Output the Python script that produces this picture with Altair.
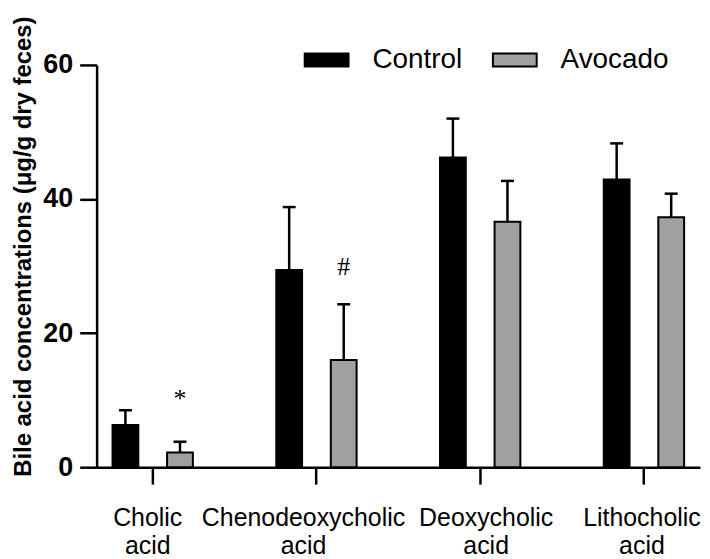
import altair as alt
import pandas as pd

categories = ["Cholic acid", "Chenodeoxycholic acid", "Deoxycholic acid", "Lithocholic acid"]
series = ["Control", "Avocado"]
control_mean = [6.3, 29.4, 46.2, 42.9]
control_sd = [2.2, 9.4, 5.8, 5.4]
avocado_mean = [2.2, 16.0, 36.6, 37.3]
avocado_sd = [1.6, 8.3, 6.1, 3.5]

note_labels = ["*", "#"]
note_category = ["Cholic acid", "Chenodeoxycholic acid"]
note_series = ["Avocado", "Avocado"]
note_value = [10.1, 29.9]

rows = []
for c, m, s in zip(categories, control_mean, control_sd):
    rows.append({"cat": c, "grp": "Control", "mean": m, "upper": m + s})
for c, m, s in zip(categories, avocado_mean, avocado_sd):
    rows.append({"cat": c, "grp": "Avocado", "mean": m, "upper": m + s})
df = pd.DataFrame(rows)
notes = pd.DataFrame({"cat": note_category, "grp": note_series, "label": note_labels, "val": note_value})

FONT = "Liberation Sans"

# small per-label horizontal nudges as in the original figure
label_nudge = {
    "condition": [
        {"test": "datum.value == 'Cholic acid'", "value": -5},
        {"test": "datum.value == 'Chenodeoxycholic acid'", "value": -13},
        {"test": "datum.value == 'Deoxycholic acid'", "value": 6},
    ],
    "value": -2,
}

x_enc = alt.X("cat:N", sort=categories, title=None,
              scale=alt.Scale(paddingInner=0.4, paddingOuter=0.0425),
              axis=alt.Axis(labelAngle=0, labelExpr="split(datum.label, ' ')",
                            labelFont=FONT, labelFontSize=25, labelLineHeight=28,
                            labelColor="black", labelPadding=22, labelLimit=400,
                            labelOffset=label_nudge,
                            tickSize=17, tickWidth=2.5, tickColor="black",
                            domainWidth=2.5, domainColor="black", grid=False))
xo_enc = alt.XOffset("grp:N", sort=series,
                     scale=alt.Scale(paddingInner=0.527, paddingOuter=0.164))
y_scale = alt.Scale(domain=[0, 60], nice=False)

bars = alt.Chart(df).mark_bar(stroke="black", strokeWidth=2).encode(
    x=x_enc,
    xOffset=xo_enc,
    y=alt.Y("mean:Q", scale=y_scale,
            title="Bile acid concentrations (μg/g dry feces)",
            axis=alt.Axis(values=[0, 20, 40, 60], grid=False,
                          labelFont=FONT, labelFontSize=27, labelFontWeight="bold",
                          labelColor="black", labelPadding=7,
                          tickSize=17, tickWidth=2.5, tickColor="black",
                          domainWidth=2.5, domainColor="black",
                          titleFont=FONT, titleFontSize=24, titleFontWeight="bold",
                          titleColor="black", titlePadding=7, titleY=182)),
    fill=alt.Fill("grp:N", sort=series,
                  scale=alt.Scale(domain=series, range=["black", "#a0a0a0"]),
                  legend=alt.Legend(title=None, orient="none", direction="horizontal",
                                    legendX=208, legendY=-28,
                                    symbolType="M-1,-0.3L1,-0.3L1,0.3L-1,0.3Z",
                                    symbolSize=1936, symbolStrokeColor="black",
                                    symbolStrokeWidth=2, symbolOpacity=1,
                                    labelFont=FONT, labelFontSize=28, labelColor="black",
                                    labelOffset=23, columnPadding=26)),
)

rules = alt.Chart(df).mark_rule(color="black", strokeWidth=2.5).encode(
    x=alt.X("cat:N", sort=categories), xOffset=alt.XOffset("grp:N", sort=series),
    y=alt.Y("mean:Q"), y2="upper:Q")

caps = alt.Chart(df).mark_tick(color="black", thickness=2.5, size=13, opacity=1).encode(
    x=alt.X("cat:N", sort=categories), xOffset=alt.XOffset("grp:N", sort=series),
    y=alt.Y("upper:Q"))

texts = alt.Chart(notes).mark_text(font="Liberation Serif", fontSize=26, color="black",
                                   baseline="middle").encode(
    x=alt.X("cat:N", sort=categories), xOffset=alt.XOffset("grp:N", sort=series),
    y=alt.Y("val:Q"), text="label:N")

chart = alt.layer(bars, rules, caps, texts).properties(
    width=606, height=404,
    autosize=alt.AutoSizeParams(type="none"),
    padding={"left": 89, "top": 56, "right": 2, "bottom": 90},
).configure(background="white").configure_view(stroke=None).configure_axis(grid=False)

chart.save("out.html", embed_options={"renderer": "svg", "actions": False})
